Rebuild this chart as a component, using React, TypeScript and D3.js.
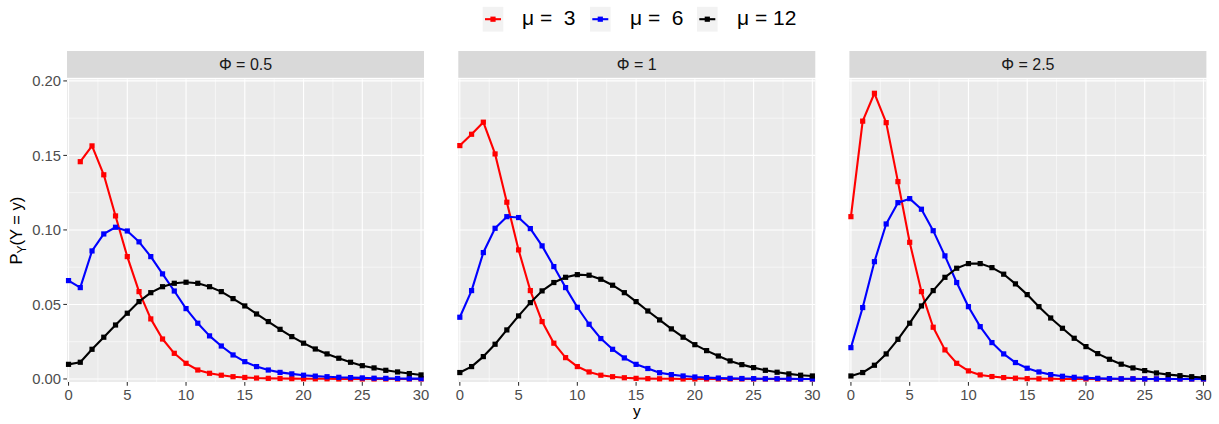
import React from "react";
import * as d3 from "d3";

// ---- data ----
const yCounts = [0,1,2,3,4,5,6,7,8,9,10,11,12,13,14,15,16,17,18,19,20,21,22,23,24,25,26,27,28,29,30];
const phiLabels = ["Φ = 0.5", "Φ = 1", "Φ = 2.5"];
const muLabels = ["μ =  3", "μ =  6", "μ = 12"];
const muColors = ["#FF0000", "#0000FF", "#000000"];

const mu3Phi05 = [null, 0.1458, 0.1564, 0.137, 0.1094, 0.0821, 0.0586, 0.0403, 0.0268, 0.0172, 0.0105, 0.006, 0.0038, 0.0025, 0.0015, 0.001, 0.0006, 0.0004, 0.0003, 0.0002, 0.0001, 0.0001, 0.0001, 0, 0, 0, 0, 0, 0, 0, 0];
const mu6Phi05 = [0.066, 0.0613, 0.0859, 0.0973, 0.1018, 0.0993, 0.092, 0.0821, 0.0705, 0.059, 0.0472, 0.0374, 0.0289, 0.0221, 0.0161, 0.0116, 0.0083, 0.006, 0.0044, 0.0034, 0.0025, 0.0019, 0.0015, 0.0011, 0.0009, 0.0007, 0.0005, 0.0004, 0.0003, 0.0002, 0.0002];
const mu12Phi05 = [0.0098, 0.0112, 0.0199, 0.028, 0.0362, 0.0441, 0.0519, 0.0579, 0.0619, 0.0642, 0.0649, 0.0642, 0.0619, 0.0586, 0.0539, 0.049, 0.0436, 0.0385, 0.0333, 0.0284, 0.024, 0.0201, 0.0168, 0.0139, 0.0112, 0.0089, 0.0074, 0.0058, 0.0047, 0.0036, 0.0027];

const mu3Phi1 = [0.1566, 0.1642, 0.1723, 0.151, 0.1186, 0.0866, 0.0593, 0.0385, 0.024, 0.0143, 0.0083, 0.0047, 0.0025, 0.0015, 0.0008, 0.0004, 0.0002, 0.0001, 0.0001, 0, 0, 0, 0, 0, 0, 0, 0, 0, 0, 0, 0];
const mu6Phi1 = [0.0414, 0.0593, 0.0848, 0.1011, 0.1089, 0.1083, 0.1009, 0.0893, 0.0754, 0.0613, 0.0481, 0.0367, 0.0271, 0.0199, 0.0141, 0.0098, 0.007, 0.0042, 0.0029, 0.002, 0.0013, 0.0009, 0.0006, 0.0004, 0.0003, 0.0002, 0.0001, 0.0001, 0.0001, 0, 0];
const mu12Phi1 = [0.0043, 0.0083, 0.015, 0.0233, 0.0329, 0.0423, 0.0512, 0.0591, 0.0647, 0.0682, 0.07, 0.0696, 0.0669, 0.0629, 0.0579, 0.0519, 0.0456, 0.0396, 0.0336, 0.028, 0.023, 0.019, 0.0154, 0.0121, 0.0096, 0.0076, 0.0058, 0.0045, 0.0034, 0.0025, 0.002];

const mu3Phi25 = [0.1089, 0.173, 0.1917, 0.172, 0.1324, 0.0917, 0.0586, 0.0347, 0.0195, 0.0105, 0.0054, 0.0027, 0.0016, 0.0009, 0.0005, 0.0002, 0.0001, 0.0001, 0, 0, 0, 0, 0, 0, 0, 0, 0, 0, 0, 0, 0];
const mu6Phi25 = [0.021, 0.0479, 0.0787, 0.104, 0.1183, 0.121, 0.1139, 0.0995, 0.0826, 0.0647, 0.0485, 0.0351, 0.0244, 0.0168, 0.011, 0.0072, 0.0047, 0.0029, 0.0018, 0.0011, 0.0007, 0.0004, 0.0002, 0.0001, 0.0001, 0, 0, 0, 0, 0, 0];
const mu12Phi25 = [0.002, 0.0043, 0.0092, 0.0168, 0.0266, 0.0374, 0.049, 0.0593, 0.0682, 0.0743, 0.0774, 0.0774, 0.0747, 0.0703, 0.0638, 0.0566, 0.0485, 0.0409, 0.034, 0.0273, 0.0217, 0.017, 0.0132, 0.0099, 0.0074, 0.0056, 0.004, 0.0029, 0.0022, 0.0015, 0.0009];

const panelSeries = [
  [mu3Phi05, mu6Phi05, mu12Phi05],
  [mu3Phi1, mu6Phi1, mu12Phi1],
  [mu3Phi25, mu6Phi25, mu12Phi25],
];

const xTicks = [0, 5, 10, 15, 20, 25, 30];
const xMinor = [2.5, 7.5, 12.5, 17.5, 22.5, 27.5];
const yTicks = [0, 0.05, 0.1, 0.15, 0.2];
const yMinor = [0.025, 0.075, 0.125, 0.175];

// ---- layout ----
const W = 1219, H = 424;
const panelLefts = [67, 458.3, 849.4];
const panelW = 357;
const panelTop = 79.2, panelBottom = 382;
const stripTop = 51, stripBottom = 77.8;
const FONT = "'Liberation Sans', Arial, Helvetica, sans-serif";

export default function App() {
  const y = d3.scaleLinear().domain([-0.00205, 0.20115]).range([panelBottom, panelTop]);
  const fmtY = d3.format(".2f");
  return (
    <div style={{ position: "absolute", left: 0, top: 0 }}>
      <svg width={W} height={H} style={{ display: "block", background: "#fff" }} fontFamily={FONT}>
        {/* legend */}
        {muLabels.map((lab, i) => {
          const keyX = [482.7, 590, 697][i];
          const txtX = [522, 630, 737][i];
          return (
            <g key={lab}>
              <rect x={keyX} y={6.8} width={20.6} height={24.8} fill="#F2F2F2" />
              <line x1={keyX + 2.3} x2={keyX + 18.3} y1={19.2} y2={19.2} stroke={muColors[i]} strokeWidth={2.1} />
              <rect x={keyX + 10.3 - 2.6} y={19.2 - 2.6} width={5.2} height={5.2} fill={muColors[i]} />
              <text x={txtX} y={24.5} fontSize={21} fill="#000" style={{ whiteSpace: "pre" }}>{lab}</text>
            </g>
          );
        })}

        {/* y axis title */}
        <text transform={`translate(22,${(panelTop + panelBottom) / 2}) rotate(-90)`} textAnchor="middle" fontSize={16.5} fill="#000">
          <tspan>P</tspan>
          <tspan fontSize={12} dy={4}>Y</tspan>
          <tspan dy={-4}>(Y = y)</tspan>
        </text>

        {/* x axis title */}
        <text x={panelLefts[1] + panelW / 2} y={416} textAnchor="middle" fontSize={15.5} fill="#000">y</text>

        {/* y axis ticks/labels */}
        {yTicks.map((t) => (
          <g key={t}>
            <line x1={63.3} x2={panelLefts[0]} y1={y(t)} y2={y(t)} stroke="#333" strokeWidth={1.07} />
            <text x={61} y={y(t)} dy="0.36em" textAnchor="end" fontSize={14.8} fill="#4D4D4D">{fmtY(t)}</text>
          </g>
        ))}

        {panelSeries.map((series, p) => {
          const left = panelLefts[p];
          const x = d3.scaleLinear().domain([-0.13, 30.25]).range([left, left + panelW]);
          return (
            <g key={p}>
              {/* strip */}
              <rect x={left} y={stripTop} width={panelW} height={stripBottom - stripTop} fill="#D9D9D9" />
              <text x={left + panelW / 2} y={(stripTop + stripBottom) / 2} dy="0.36em" textAnchor="middle" fontSize={16} fill="#1A1A1A">{phiLabels[p]}</text>
              {/* panel */}
              <rect x={left} y={panelTop} width={panelW} height={panelBottom - panelTop} fill="#EBEBEB" />
              {yMinor.map((t) => (
                <line key={"ym" + t} x1={left} x2={left + panelW} y1={y(t)} y2={y(t)} stroke="#fff" strokeWidth={0.55} />
              ))}
              {xMinor.map((t) => (
                <line key={"xm" + t} x1={x(t)} x2={x(t)} y1={panelTop} y2={panelBottom} stroke="#fff" strokeWidth={0.55} />
              ))}
              {yTicks.map((t) => (
                <line key={"yM" + t} x1={left} x2={left + panelW} y1={y(t)} y2={y(t)} stroke="#fff" strokeWidth={1.1} />
              ))}
              {xTicks.map((t) => (
                <line key={"xM" + t} x1={x(t)} x2={x(t)} y1={panelTop} y2={panelBottom} stroke="#fff" strokeWidth={1.1} />
              ))}
              {/* x axis */}
              {xTicks.map((t) => (
                <g key={"xt" + t}>
                  <line x1={x(t)} x2={x(t)} y1={panelBottom} y2={panelBottom + 3.7} stroke="#333" strokeWidth={1.07} />
                  <text x={x(t)} y={panelBottom + 17.5} textAnchor="middle" fontSize={14.8} fill="#4D4D4D">{t}</text>
                </g>
              ))}
              {/* series */}
              {series.map((vals, s) => {
                const pts = yCounts
                  .map((c, i) => ({ c, v: vals[i] }))
                  .filter((d) => d.v !== null && d.v !== undefined) as { c: number; v: number }[];
                const line = d3.line<{ c: number; v: number }>().x((d) => x(d.c)).y((d) => y(d.v));
                return (
                  <g key={s}>
                    <path d={line(pts) || ""} fill="none" stroke={muColors[s]} strokeWidth={2.1} strokeLinejoin="round" />
                    {pts.map((d) => (
                      <rect key={d.c} x={x(d.c) - 2.6} y={y(d.v) - 2.6} width={5.2} height={5.2} fill={muColors[s]} />
                    ))}
                  </g>
                );
              })}
            </g>
          );
        })}
      </svg>
    </div>
  );
}
